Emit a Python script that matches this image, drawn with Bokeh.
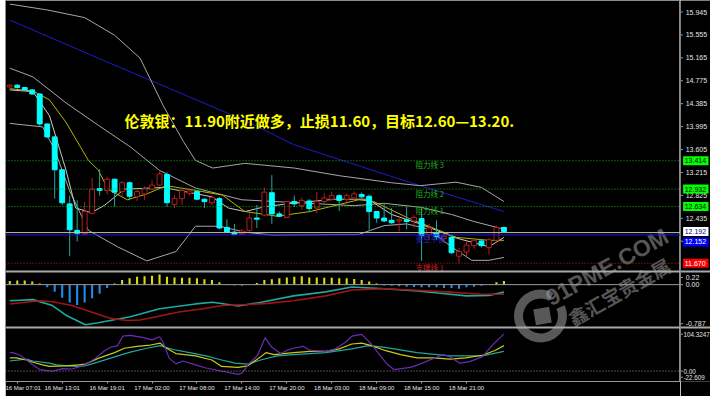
import numpy as np
from bokeh.plotting import figure
from bokeh.layouts import row
from bokeh.models import Range1d, FixedTicker, Span, ColumnDataSource, Spacer
from bokeh.core.properties import value
from bokeh.embed import file_html
from bokeh.resources import INLINE

# ---------------- data ----------------
bar_index = list(range(67))
opens = [14.67,14.70,14.66,14.62,14.55,14.04,13.82,13.26,12.68,12.23,
         12.17,12.52,12.94,12.91,13.10,12.89,13.04,12.80,12.85,12.93,
         13.00,13.18,12.67,12.77,12.86,12.89,12.76,12.70,12.77,12.28,
         12.20,12.17,12.23,12.44,12.49,12.87,12.51,12.45,12.72,12.65,
         12.73,12.61,12.72,12.76,12.82,12.76,12.78,12.84,12.81,12.55,
         12.44,12.40,12.39,12.41,12.39,12.43,12.16,12.18,12.09,12.11,
         11.79,11.86,11.97,12.05,11.94,12.06,12.28]
highs = [14.72,14.72,14.67,14.63,14.56,14.05,13.83,13.27,12.82,12.74,
         12.71,13.12,13.27,13.14,13.11,13.07,13.06,12.92,12.98,13.08,
         13.23,13.22,12.83,12.96,12.94,12.91,12.77,12.82,12.80,12.42,
         12.34,12.25,12.52,12.66,12.96,13.17,12.55,12.73,12.82,12.79,
         12.76,12.88,12.86,12.89,12.84,12.86,12.89,12.87,12.84,12.56,
         12.69,12.61,12.45,12.63,12.49,12.63,12.34,12.40,12.17,12.13,
         11.93,12.04,12.09,12.06,12.10,12.31,12.29]
lows = [14.66,14.64,14.60,14.54,14.01,13.80,12.77,12.66,11.79,12.04,
        12.15,12.50,12.82,12.84,12.63,12.82,12.74,12.73,12.75,12.92,
        12.99,12.63,12.61,12.66,12.82,12.74,12.61,12.66,12.25,12.19,
        12.15,12.15,12.20,12.27,12.47,12.34,12.46,12.44,12.63,12.58,
        12.54,12.52,12.69,12.74,12.56,12.71,12.74,12.77,12.24,12.36,
        12.37,12.34,12.21,12.25,12.27,11.71,12.06,12.06,12.01,11.83,
        11.67,11.79,11.92,11.94,11.82,12.03,12.20]
closes = [14.70,14.66,14.62,14.55,14.04,13.82,13.26,12.70,12.24,12.18,
          12.55,12.93,12.91,13.10,12.88,13.04,12.81,12.89,12.94,13.00,
          13.19,12.70,12.77,12.91,12.90,12.76,12.72,12.79,12.27,12.20,
          12.16,12.22,12.44,12.42,12.88,12.51,12.47,12.72,12.68,12.74,
          12.60,12.72,12.78,12.82,12.74,12.82,12.85,12.80,12.55,12.44,
          12.39,12.36,12.41,12.38,12.45,12.14,12.27,12.12,12.13,11.85,
          11.87,11.98,12.06,11.97,12.07,12.28,12.21]

time_tick_index = [1, 7, 13, 19, 25, 31, 37, 43, 49, 55, 61]
time_tick_labels = ["16 Mar 07:01", "16 Mar 13:01", "16 Mar 19:01", "17 Mar 02:00",
                    "17 Mar 08:00", "17 Mar 14:00", "17 Mar 20:00", "18 Mar 03:00",
                    "18 Mar 09:00", "18 Mar 15:00", "18 Mar 21:00"]

price_ticks = [15.945, 15.555, 15.165, 14.775, 14.385, 13.995, 13.605,
               13.215, 12.825, 12.435, 12.045]

resist_levels = [13.414, 12.932, 12.634]
resist_names = ["阻力线 3", "阻力线 2", "阻力线 1"]
support_level = 11.670
support_name = "支撑线 1"
balance_level = 12.152
balance_name = "多空平衡"
bid_level = 12.192

headline = "伦敦银：11.90附近做多，止损11.60，目标12.60—13.20."
watermark_en = "91PME.COM"
watermark_cn = "鑫汇宝贵金属"

# indicator lines on the main chart (bar index, price)
blue_idx = [0, 11.8, 31.4, 37.9, 50.9, 54.8, 66]
blue_val = [15.81, 15.16, 14.10, 13.69, 13.15, 12.99, 12.55]
bbup_idx = [0, 5, 10, 14, 17.4, 20.5, 23.2, 24.8, 27.1, 31.4, 38, 44, 51, 54.8, 59.6, 63, 66]
bbup_val = [16.08, 15.98, 15.85, 15.55, 15.16, 14.35, 13.74, 13.42, 13.29, 13.37, 13.29,
            13.16, 13.04, 12.99, 13.05, 12.96, 12.72]
bbmid_idx = [0, 3.1, 7.5, 11.8, 16.1, 20, 24.8, 31, 40, 46, 50, 55, 59, 62, 66]
bbmid_val = [14.99, 14.84, 14.40, 14.02, 13.65, 13.25, 12.95, 12.75, 12.69, 12.65, 12.69,
             12.62, 12.50, 12.38, 12.25]
bblow_idx = [0, 4.4, 6, 8, 10.5, 14.4, 18.3, 22.2, 24.8, 28, 31.4, 35, 46.6, 50, 53, 55.7,
             59, 61.7, 64, 66]
bblow_val = [14.05, 13.99, 13.60, 12.90, 12.23, 11.95, 11.71, 11.87, 12.30, 12.30, 12.20,
             12.15, 12.16, 12.31, 12.34, 12.26, 11.95, 11.72, 11.72, 11.77]
fast_idx = [0, 3.1, 5.3, 7.5, 8.8, 10.9, 12.7, 15.3, 20.5, 27, 29.2, 31.4, 34, 37, 40.1,
            43.5, 47.9, 51, 54.8, 59.6, 64, 66]
fast_val = [14.62, 14.59, 14.18, 13.26, 12.61, 12.53, 12.66, 12.93, 12.96, 12.80, 12.61,
            12.55, 12.63, 12.68, 12.72, 12.76, 12.76, 12.50, 12.34, 12.10, 11.95, 12.11]
yel_idx = [0, 3.1, 5.3, 7.5, 10.5, 11.8, 13.1, 15.7, 18.3, 20.9, 24.8, 28.4, 31.4, 35.7,
           40.1, 46.6, 48.6, 53.2, 59.7, 64, 66]
yel_val = [14.64, 14.60, 14.45, 14.07, 13.42, 13.26, 12.93, 12.75, 12.85, 12.99, 12.91,
           12.83, 12.55, 12.47, 12.55, 12.75, 12.72, 12.44, 12.11, 12.06, 12.06]

# MACD panel
macd_hist = [0.068, 0.076, 0.076, 0.058, 0.022, -0.05, -0.135, -0.243, -0.333, -0.38,
             -0.333, -0.255, -0.171, -0.063, 0.022, 0.086, 0.117, 0.147, 0.158, 0.165,
             0.189, 0.147, 0.135, 0.129, 0.129, 0.117, 0.099, 0.086, 0.045, 0.014,
             -0.014, -0.022, 0.0, 0.032, 0.086, 0.099, 0.117, 0.135, 0.147, 0.158,
             0.135, 0.135, 0.129, 0.129, 0.117, 0.117, 0.104, 0.086, 0.058, 0.022,
             -0.014, -0.022, -0.032, -0.04, -0.045, -0.05, -0.05, -0.05, -0.063, -0.063,
             -0.076, -0.05, -0.04, -0.022, 0.0, 0.045, 0.068]
macd_main_idx = [0, 3.1, 5.7, 7.5, 10.1, 11.8, 16.1, 20.0, 24.8, 27.1, 30.5, 33.6, 37.9,
                 42.2, 45.7, 50.0, 54.5, 58.8, 61.0, 64.0, 66.0]
macd_main_val = [-0.30, -0.28, -0.39, -0.57, -0.75, -0.71, -0.60, -0.45, -0.36, -0.33,
                 -0.40, -0.33, -0.21, -0.135, -0.045, -0.076, -0.12, -0.18, -0.21, -0.20, -0.14]
macd_sig_idx = [0, 4.0, 5.7, 8.3, 10.9, 13.5, 15.7, 17.4, 19.6, 22.6, 25.8, 28.4, 31.8,
                34.4, 37.9, 42.2, 45.7, 50.0, 54.5, 58.8, 63.1, 66.0]
macd_sig_val = [-0.36, -0.30, -0.32, -0.39, -0.51, -0.63, -0.67, -0.66, -0.60, -0.51, -0.45,
                -0.39, -0.37, -0.35, -0.30, -0.21, -0.10, -0.076, -0.104, -0.14, -0.18, -0.18]
macd_max_label = "0.22"
macd_min_label = "-0.787"

# oscillator panel
osc_max_label = "104.3247"
osc_min_label = "-22.609"
purple_idx = [0, 0.5, 1.4, 3.1, 4.0, 5.7, 7.0, 8.3, 9.5, 10.1, 11.4, 12.7, 13.5, 14.4, 15.1,
              16.1, 17.9, 19.0, 20.0, 20.5, 21.3, 22.2, 23.1, 24.8, 26.2, 28.4, 30.5, 31.1,
              31.8, 33.1, 34.1, 35.0, 36.2, 37.0, 37.9, 39.2, 40.1, 42.2, 43.5, 44.8, 45.7,
              47.0, 48.3, 49.6, 50.5, 51.3, 53.5, 54.5, 57.9, 58.8, 60.1, 61.4, 63.1, 64.4, 66.0]
purple_val = [46, 45, 39, 15, 3.6, -0.5, 5.9, 5, 11.4, 15.4, 31.3, 51, 58.8, 62.9, 86.6,
              88.3, 82.6, 77.1, 84.9, 70.7, 31.3, 17.8, 24.9, 15.4, 7.6, -0.5, -8.3, -4.3,
              15.4, 39.1, 82.6, 58.8, 43.2, 51, 56.5, 61.2, 51, 48.6, 55, 70.7, 86.6,
              90.6, 66.9, 35.1, 15.4, 3.6, 9, 15.4, 40.8, 35.1, 19.5, 23.3, 35.1, 62.9, 92]
oscy_idx = [0, 0.9, 2.2, 3.1, 4.4, 5.3, 7.5, 9.2, 10.1, 11.8, 14.0, 15.3, 17.0, 18.8, 20.1,
            20.7, 22.2, 24.8, 27.0, 28.3, 30.5, 31.8, 33.5, 34.2, 35.3, 37.9, 40.1, 42.2,
            44.0, 45.7, 47.0, 48.3, 50.1, 52.2, 54.4, 56.6, 58.8, 60.9, 63.1, 64.8, 66.0]
oscy_val = [32.7, 32.7, 27.3, 21.8, 15.4, 11.4, 13, 15.4, 17.1, 31.3, 45.5, 56.5, 61.2,
            64.4, 69.2, 58.8, 43.2, 37.5, 27.3, 11.4, 9, 13, 35.1, 45.5, 40.8, 45.5, 48.6,
            48.6, 55, 66.9, 69.2, 62.9, 51, 40.8, 32.7, 32.7, 29.7, 32.7, 39.1, 51, 62.9]
osct_idx = [0, 2.2, 3.1, 5.3, 6.2, 8.8, 10.1, 10.9, 14.0, 16.1, 18.3, 20.1, 21.8, 24.0,
            26.2, 28.3, 30.1, 31.8, 33.5, 35.7, 37.9, 42.2, 45.7, 47.9, 50.1, 54.4, 58.8,
            63.1, 66.0]
osct_val = [24.9, 29.7, 24.9, 19.5, 15.4, 11.4, 13, 17.1, 35.1, 47, 56.5, 62.9, 53.4, 45.5,
            37.5, 27.3, 19.5, 17.1, 27.3, 37.5, 40.8, 45.5, 55, 62.9, 58.8, 45.5, 37.5,
            37.5, 48.6]

# ---------------- layout ----------------
LEFT = 5            # white strip on the left
MAIN_W = 675        # chart area width
SIDE_W = 30         # price-scale column
H = 396
XAX = 15            # time-axis band height
FH = H - XAX        # frame height
B1, B2 = 271, 327   # panel boundaries (px from frame top)
BG = "black"
GRID = "#8c8c8c"
SEP = "#a8a8a8"
TXT = "#e4e4e4"


def band_range(v_top, v_bot, y_top, y_bot):
    k = (v_top - v_bot) / (y_bot - y_top)
    return Range1d(v_bot - (FH - y_bot) * k, v_top + y_top * k)


x_range = Range1d(-0.571, 89.58)
y_main = band_range(16.1408, 11.5298, 0, B1)
y_macd = band_range(0.245, -0.80, B1, B2)
y_osc = band_range(107.8, -25.9, B2, FH)
PX = (y_main.end - y_main.start) / FH       # one pixel in price units


def px_to_data(sx, sy):
    """screen px (layout coords) -> main-panel data coords"""
    xi_ = x_range.start + (sx - LEFT) * (x_range.end - x_range.start) / MAIN_W
    yv = y_main.end - sy * PX
    return xi_, yv


F = figure(width=MAIN_W, height=H, x_range=x_range, y_range=y_main,
           x_axis_location="below", y_axis_location=None,
           output_backend="svg", toolbar_location=None,
           min_border_left=0, min_border_right=0, min_border_top=0,
           min_border_bottom=XAX,
           background_fill_color=BG, border_fill_color=BG,
           outline_line_color=GRID, outline_line_width=1)
F.extra_y_ranges = {"macd": y_macd, "osc": y_osc}
F.grid.visible = False

# panel separators
F.add_layout(Span(location=y_main.end - B1 * PX, dimension="width", line_color=SEP,
                  line_width=2))
F.add_layout(Span(location=y_main.end - B2 * PX, dimension="width", line_color=SEP,
                  line_width=2))

# ---- main price panel ----
for lv in resist_levels:
    F.add_layout(Span(location=lv, dimension="width", line_color="#1fae1f",
                      line_dash="1 2", line_width=1))
F.add_layout(Span(location=support_level, dimension="width", line_color="#c81e1e",
                  line_dash="1 2", line_width=1))
F.add_layout(Span(location=bid_level, dimension="width", line_color="#bdbdbd", line_width=1))
F.add_layout(Span(location=balance_level, dimension="width", line_color="#1a1ad2", line_width=1))

F.line(blue_idx, blue_val, line_color="#1c1cc8", line_width=1)
F.line(bbup_idx, bbup_val, line_color="#a6a6a6", line_width=1)
F.line(bbmid_idx, bbmid_val, line_color="#a6a6a6", line_width=1)
F.line(bblow_idx, bblow_val, line_color="#a6a6a6", line_width=1)
F.line(fast_idx, fast_val, line_color="#c8c8c8", line_width=1)
F.line(yel_idx, yel_val, line_color="#b4b400", line_width=1)

o = np.array(opens); c = np.array(closes)
up = c >= o
xi = np.array(bar_index)
src = ColumnDataSource(dict(x=bar_index, l=lows, h=highs,
                            wick=["#b41e1e" if u else "#22a8a8" for u in up]))
F.segment(x0="x", y0="l", x1="x", y1="h", color="wick", line_width=1, source=src)
F.vbar(x=xi[~up], top=o[~up], bottom=c[~up], width=0.65,
       fill_color="#00ffff", line_color="#00ffff", line_width=1)
F.vbar(x=xi[up], top=c[up], bottom=o[up], width=0.65,
       fill_color="black", line_color="#b41e1e", line_width=1)

cjk = value("Noto Sans CJK SC")
lab_x = 54.2
F.text(x=[lab_x] * 3, y=[lv - 4 * PX for lv in resist_levels], text=resist_names,
       text_color="#1fae1f", text_font=cjk, text_font_size="7.5px",
       text_baseline="middle", text_align="left")
F.text(x=[lab_x], y=[support_level - 4 * PX], text=[support_name], text_color="#d21e1e",
       text_font=cjk, text_font_size="7.5px", text_baseline="middle", text_align="left")
F.text(x=[lab_x], y=[balance_level - 4 * PX], text=[balance_name], text_color="#2a2ae6",
       text_font=cjk, text_font_size="7.5px", text_baseline="middle", text_align="left")
F.text(x=[15.33], y=[14.10], text=[headline], text_color="#ffff00", text_font=cjk,
       text_font_size="15px", text_font_style="bold", text_baseline="middle",
       text_align="left")

# ---- MACD panel ----
F.add_layout(Span(location=0, dimension="width", line_color="#9a9a9a", line_width=1,
                  y_range_name="macd"))
h = np.array(macd_hist)
pos = h > 0
F.vbar(x=xi[pos], top=h[pos], bottom=0, width=0.28, fill_color="#d8d81c",
       line_color=None, y_range_name="macd")
F.vbar(x=xi[~pos], top=h[~pos], bottom=0, width=0.28, fill_color="#1e8cf0",
       line_color=None, y_range_name="macd")
F.line(macd_main_idx, macd_main_val, line_color="#1fa8a0", line_width=1.6,
       y_range_name="macd")
F.line(macd_sig_idx, macd_sig_val, line_color="#a01414", line_width=1.6,
       y_range_name="macd")

# ---- oscillator panel ----
F.add_layout(Span(location=0, dimension="width", line_color="#9a9a9a",
                  line_dash="1 2", line_width=1, y_range_name="osc"))
F.line(osct_idx, osct_val, line_color="#1fa8a0", line_width=1.2, y_range_name="osc")
F.line(oscy_idx, oscy_val, line_color="#c8c81c", line_width=1.2, y_range_name="osc")
F.line(purple_idx, purple_val, line_color="#6a2bb8", line_width=1.2, y_range_name="osc")

# ---- watermark (semi-transparent overlay) ----
WM = "#a0a0a0"
WA = 0.55
rx, ry = px_to_data(540, 315.5)
F.annular_wedge(x=[rx], y=[ry], inner_radius=17.5, outer_radius=26.5,
                inner_radius_units="screen", outer_radius_units="screen",
                start_angle=1.05, end_angle=0.42 + 2 * np.pi, direction="anticlock",
                fill_color=WM, fill_alpha=WA, line_color=None)
qx, qy = px_to_data(542, 315.5)
F.rect(x=[qx], y=[qy], width=16, height=16, width_units="screen", height_units="screen",
       angle=0.17, fill_color=WM, fill_alpha=WA, line_color=None)
tx, ty = px_to_data(547, 299)
F.text(x=[tx], y=[ty], text=[watermark_en], angle=0.5, text_color=WM, text_alpha=WA,
       text_font=value("Liberation Sans"), text_font_style="bold", text_font_size="23px",
       text_baseline="alphabetic", text_align="left")
tx, ty = px_to_data(569, 319)
F.text(x=[tx], y=[ty], text=[watermark_cn], angle=0.52, text_color=WM, text_alpha=WA,
       text_font=cjk, text_font_style="bold", text_font_size="19px",
       text_baseline="alphabetic", text_align="left")

# ---- time axis ----
xa = F.xaxis[0]
xa.ticker = FixedTicker(ticks=time_tick_index)
xa.major_label_overrides = dict(zip(time_tick_index, time_tick_labels))
xa.major_label_text_font_size = "6px"
xa.major_label_text_font = "Liberation Sans"
xa.major_label_text_color = TXT
xa.major_label_text_align = "left"
xa.axis_line_color = "#9a9a9a"
xa.major_tick_line_color = "#9a9a9a"
xa.major_tick_out = 2
xa.major_tick_in = 0
xa.minor_tick_line_color = None
xa.major_label_standoff = 1

# ---------------- price-scale column ----------------
S = figure(width=SIDE_W, height=H, x_range=Range1d(0, SIDE_W), y_range=y_main,
           x_axis_location=None, y_axis_location=None,
           output_backend="svg", toolbar_location=None,
           min_border_left=0, min_border_right=0, min_border_top=0,
           min_border_bottom=XAX,
           background_fill_color=BG, border_fill_color=BG, outline_line_color=None)
S.extra_y_ranges = {"macd": y_macd, "osc": y_osc}
S.grid.visible = False


def scale_labels(ys, texts, rng="default", size="7px", x=5.2):
    S.segment(x0=[0] * len(ys), x1=[2.5] * len(ys), y0=ys, y1=ys,
              line_color="#9a9a9a", line_width=1, y_range_name=rng)
    S.text(x=[x] * len(ys), y=ys, text=texts, text_color=TXT,
           text_font=value("Liberation Sans"), text_font_size=size,
           text_baseline="middle", text_align="left", y_range_name=rng)


def price_box(y, txt, fill, color):
    S.rect(x=[15.3], y=[y], width=25.4, height=9, height_units="screen",
           fill_color=fill, line_color=None)
    S.text(x=[4.2], y=[y], text=[txt], text_color=color,
           text_font=value("Liberation Sans"), text_font_size="7px",
           text_baseline="middle", text_align="left")


scale_labels(price_ticks, [f"{t:.3f}" for t in price_ticks])
for lv in resist_levels:
    price_box(lv, f"{lv:.3f}", "#00ff00", "black")
price_box(bid_level + 1 * PX, f"{bid_level:.3f}", "white", "#000080")
price_box(balance_level - 7 * PX, f"{balance_level:.3f}", "#0000ff", "white")
price_box(support_level, f"{support_level:.3f}", "#ff0000", "white")
scale_labels([0.135, 0.0, -0.728], [macd_max_label, "0.00", macd_min_label], rng="macd")
scale_labels([91.3, 0.0, -15.4], [osc_max_label, "0.00", osc_min_label], rng="osc",
             size="6.3px", x=3.0)
S.add_layout(Span(location=y_main.end - B1 * PX, dimension="width", line_color=SEP,
                  line_width=2))
S.add_layout(Span(location=y_main.end - B2 * PX, dimension="width", line_color=SEP,
                  line_width=2))

layout = row(Spacer(width=LEFT, height=H), F, S)
open("out.html", "w").write(file_html(layout, INLINE))
